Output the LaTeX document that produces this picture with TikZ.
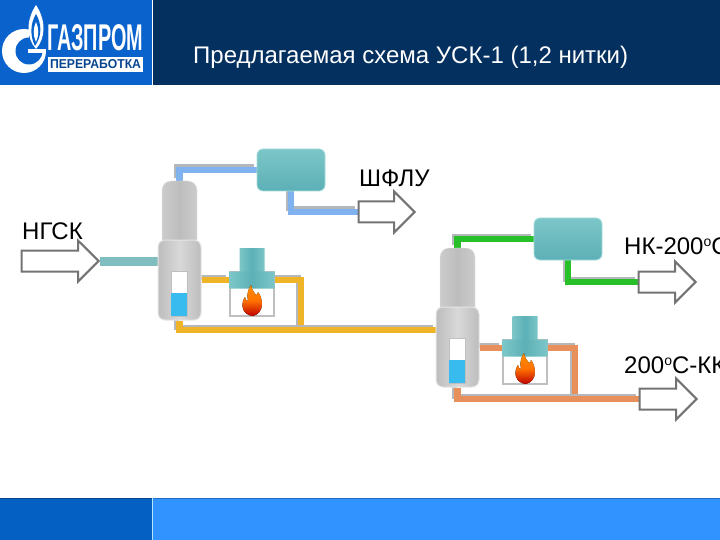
\documentclass[tikz,border=0pt]{standalone}
\usepackage{fontspec}
\setmainfont{Liberation Sans}
\usetikzlibrary{backgrounds,shapes.arrows,shapes.misc}
\definecolor{headnavy}{HTML}{03305F}
\definecolor{logoblue}{HTML}{0A62CC}
\definecolor{footblue}{HTML}{0560C4}
\definecolor{footlight}{HTML}{3093FF}
\definecolor{pipegrey}{HTML}{B4B8BC}
\definecolor{pipeblue}{HTML}{7FB2EE}
\definecolor{pipegreen}{HTML}{28C028}
\definecolor{pipeyellow}{HTML}{F0B428}
\definecolor{pipeorange}{HTML}{E8905C}
\definecolor{pipeteal}{HTML}{7FBDBE}
\definecolor{tealdark}{HTML}{5CB0B6}
\definecolor{tealmid}{HTML}{7CC6C8}
\definecolor{teallight}{HTML}{A6DCDC}
\definecolor{liquidblue}{HTML}{38BCF0}
\newcommand{\degmark}{\raisebox{.6ex}{\fontsize{14}{14}\selectfont o}}
\tikzset{
  pipe/.style={line width=6.5pt, preaction={draw=pipegrey, line width=5pt, transform canvas={shift={(-3pt,3pt)}}}},
  flowarrow/.style={single arrow, draw=black!55, line width=2pt, fill=white, single arrow head extend=10pt,
    single arrow tip angle=90, inner xsep=0pt, inner ysep=9.5pt, anchor=tip},
  flowlabel/.style={font=\fontsize{24}{24}\selectfont, anchor=west, inner sep=0pt},
  coolerbox/.style={rounded corners=6pt, minimum width=68pt, minimum height=42pt, inner sep=0pt,
    draw=teallight, line width=.8pt, top color=tealmid, bottom color=tealdark},
  vesseltop/.style={rounded corners=9pt, minimum width=35pt, minimum height=72pt, inner sep=0pt,
    draw=black!10, left color=black!20, right color=black!20, middle color=black!26},
  vessellow/.style={rounded corners=7pt, minimum width=43pt, minimum height=80pt, inner sep=0pt,
    draw=black!10, line width=1pt, left color=black!26, right color=black!26, middle color=black!15},
  gaugebox/.style={minimum width=16pt, minimum height=45pt, inner sep=0pt, fill=white, draw=black!25},
  furnacebox/.style={minimum width=44pt, minimum height=44pt, inner sep=0pt, draw=black!25, line width=1.2pt, fill=white},
  furnacehead/.style={chamfered rectangle, chamfered rectangle corners={north west,north east},
    chamfered rectangle xsep=4pt, chamfered rectangle ysep=4pt, minimum width=45pt, minimum height=17pt, inner sep=0pt,
    left color=tealmid, right color=tealmid, middle color=tealdark},
  chimney/.style={chamfered rectangle, chamfered rectangle corners={north west,north east},
    chamfered rectangle xsep=3pt, chamfered rectangle ysep=3pt, minimum width=25pt, minimum height=24pt, inner sep=0pt,
    left color=tealmid, right color=tealmid, middle color=tealdark}
}
\begin{document}
\begin{tikzpicture}[x=1pt,y=-1pt]
\useasboundingbox (0,0) rectangle (720,540);
\clip (0,0) rectangle (720,540);
\fill[headnavy] (152,0) rectangle (720,85);
\fill[logoblue] (0,0) rectangle (152,85);
\fill[footblue] (0,498) rectangle (152,540);
\fill[footlight] (152,498) rectangle (720,540);
\draw[footblue!70!black, line width=1pt] (0,498.5) -- (152,498.5);
\draw[footlight!75!black, line width=1pt] (152,498.5) -- (720,498.5);
\draw[white, line width=1pt] (152.5,0) -- (152.5,85);
\draw[white!70!cyan, line width=1pt] (152.5,498) -- (152.5,540);

\fill[white] (24,51) circle (22);
\fill[logoblue] (29,51) circle (13.5);
\fill[logoblue] (29,24) rectangle (48,49);
\fill[white] (28,49) rectangle (45,53);
\fill[white] (36,5) .. controls (26,20) and (26,38) .. (36,49) .. controls (46,38) and (46,20) .. (36,5);
\fill[logoblue] (36,14) .. controls (30,24) and (30,36) .. (35,46) .. controls (42,36) and (42,24) .. (36,14);
\fill[white] (36,22) .. controls (33,28) and (33,36) .. (36,42) .. controls (39,36) and (39,28) .. (36,22);
\node[anchor=west, inner sep=0pt, text=white] (logoname) at (47,38) {\resizebox{96pt}{26pt}{\bfseries ГАЗПРОМ}};
\fill[white] (48,57) rectangle (143,72);
\node[inner sep=0pt, text=logoblue!70!black] (logosub) at (95.5,64.5) {\resizebox{91pt}{9pt}{\bfseries ПЕРЕРАБОТКА}};

\node[anchor=west, inner sep=0pt, text=white, font=\fontsize{24}{24}\selectfont] (title) at (193,57.5) {Предлагаемая схема УСК-1 (1,2 нитки)};

\node[flowarrow, minimum height=77pt] (ngskarrow) at (100,261) {};
\node[flowarrow, minimum height=56pt] (shfluarrow) at (416,212) {};
\node[flowarrow, minimum height=57pt] (nkarrow) at (697,282) {};
\node[flowarrow, minimum height=57pt] (kkarrow) at (698,399) {};
\node[flowlabel] (ngsklabel) at (22,231) {НГСК};
\node[flowlabel] (shflulabel) at (359,178) {ШФЛУ};
\node[flowlabel] (nklabel) at (624,246) {НК-200\degmark С};
\node[flowlabel] (kklabel) at (624,365) {200\degmark С-КК};

\node[coolerbox] (coolera) at (291,170) {};
\node[coolerbox] (coolerb) at (568,239) {};

\foreach \name/\cx/\cy in {a/179.5/217, b/457.5/284} {
  \node[vesseltop] (vesseltop\name) at (\cx,\cy) {};
  \node[vessellow] (vessellow\name) at (\cx,\cy+63) {};
  \node[gaugebox] (gauge\name) at (\cx,\cy+77) {};
  \fill[liquidblue] ([yshift=-22pt]gauge\name.north west) rectangle ([shift={(-1pt,1pt)}]gauge\name.south east);
}

\foreach \name/\fx/\fy in {a/252/294, b/525/362} {
  \node[furnacebox] (furnace\name) at (\fx,\fy) {};
  \node[chimney] (chimney\name) at (\fx,\fy-34) {};
  \node[furnacehead] (furnacehead\name) at (\fx,\fy-14) {};
  \fill[top color=orange!90!yellow, bottom color=red!75!black, middle color=orange!90!red, shift={(\fx,\fy)}]
    (1,22) .. controls (-10,21) and (-12,10) .. (-7,3) .. controls (-6,7) and (-5,7) .. (-4,7)
    .. controls (-6,0) and (-3,-6) .. (-1,-9) .. controls (0,-3) and (3,-1) .. (4,1)
    .. controls (5,1) and (6,0) .. (6,-2) .. controls (11,4) and (13,19) .. (1,22);
}

\coordinate (juncta) at (301,330);
\coordinate (feedb) at (436,330);
\coordinate (junctb) at (575,399);
\begin{scope}[on background layer]
\draw[line width=9pt, pipeteal] (ngskarrow.tip) -- (vessellowa.west |- ngskarrow.tip);
\draw[pipe, pipeblue] (vesseltopa.north) |- (coolera.west);
\draw[pipe, pipeblue] (coolera.south) |- (shfluarrow.tail);
\draw[pipe, pipegreen] (vesseltopb.north) |- (coolerb.west);
\draw[pipe, pipegreen] (coolerb.south) |- (nkarrow.tail);
\draw[pipe, pipeyellow] (vessellowa.east |- furnaceheada.west) -- (furnaceheada.west);
\draw[pipe, pipeyellow] (furnaceheada.east) -| (juncta);
\draw[pipe, pipeyellow] (vessellowa.south) |- (feedb);
\draw[pipe, pipeorange] (vessellowb.east |- furnaceheadb.west) -- (furnaceheadb.west);
\draw[pipe, pipeorange] (furnaceheadb.east) -| (junctb);
\draw[pipe, pipeorange] (vessellowb.south) |- (kkarrow.tail);
\end{scope}
\end{tikzpicture}
\end{document}
